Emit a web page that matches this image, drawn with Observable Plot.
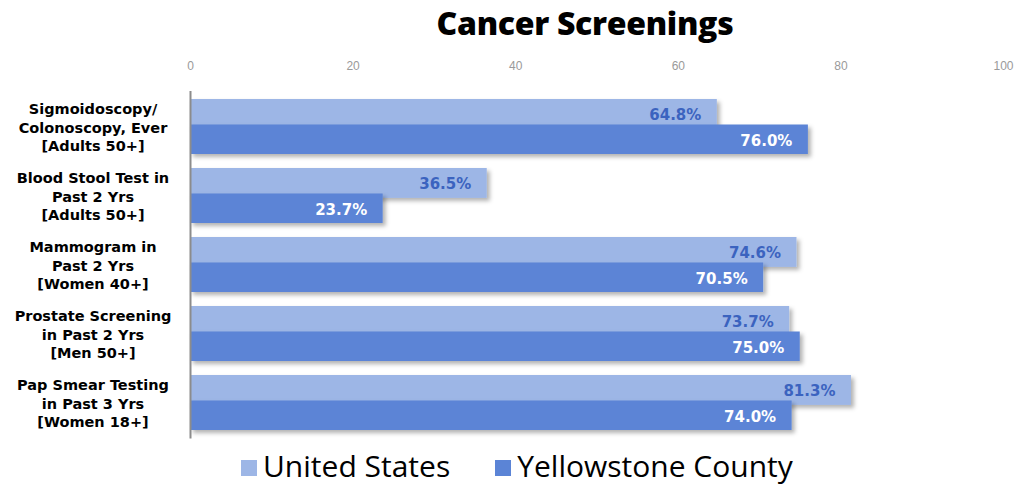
<!DOCTYPE html>
<html>
<head>
<meta charset="utf-8">
<script src="https://cdn.jsdelivr.net/npm/d3@7"></script>
<script src="https://cdn.jsdelivr.net/npm/@observablehq/plot@0.6"></script>
<style>
  html, body { margin: 0; padding: 0; background: #fff; }
  #wrap { position: relative; width: 1028px; height: 485px; overflow: hidden; }
  #title { position: absolute; left: 0; width: 1170px; top: 1px; text-align: center;
    font-family: "Open Sans", sans-serif; font-weight: 800; font-size: 32px; color: #000; letter-spacing: -0.3px; }
  #chart { position: absolute; left: 0; top: 0; }
  #legend { position: absolute; left: 241px; top: 449px; display: flex; align-items: center;
    font-family: "Open Sans", sans-serif; font-size: 30px; line-height: 34px; color: #000; white-space: nowrap; }
  .sw { display: inline-block; width: 16px; height: 16px; margin-right: 6px; margin-top: 3px; }
  .item { display: flex; align-items: center; margin-right: 45px; }
</style>
</head>
<body>
<div id="wrap">
  <div id="chart"></div>
  <div id="title">Cancer Screenings</div>
  <div id="legend"></div>
</div>
<script>
const categories = [
  "Sigmoidoscopy/\nColonoscopy, Ever\n[Adults 50+]",
  "Blood Stool Test in\nPast 2 Yrs\n[Adults 50+]",
  "Mammogram in\nPast 2 Yrs\n[Women 40+]",
  "Prostate Screening\nin Past 2 Yrs\n[Men 50+]",
  "Pap Smear Testing\nin Past 3 Yrs\n[Women 18+]"
];
const unitedStates = [64.8, 36.5, 74.6, 73.7, 81.3];
const yellowstone = [76.0, 23.7, 70.5, 75.0, 74.0];
const seriesNames = ["United States", "Yellowstone County"];
const xTicks = [0, 20, 40, 60, 80, 100];

const colors = { light: "#9db6e6", dark: "#5b84d6", usText: "#3b63bf" };

const usData = categories.map((c, i) => ({ cat: c, value: unitedStates[i] }));
const ycData = categories.map((c, i) => ({ cat: c, value: yellowstone[i] }));

const chart = Plot.plot({
  width: 1028,
  height: 445,
  marginTop: 91,
  marginBottom: 6.5,
  marginLeft: 190,
  marginRight: 25,
  style: { fontFamily: "DejaVu Sans, sans-serif", background: "transparent" },
  x: { domain: [0, 100] },
  y: { domain: categories, paddingInner: 0.2, paddingOuter: 0.1, axis: null },
  marks: [
    Plot.axisX({ anchor: "top", ticks: xTicks, tickSize: 0, tickPadding: 22, fontSize: 12,
      fontFamily: "Liberation Sans, sans-serif", fill: "#9a9a9a", label: null }),
    Plot.barX(usData, { x: "value", y: "cat", fill: colors.light, insetBottom: 25.1 }),
    Plot.barX(ycData, { x: "value", y: "cat", fill: colors.dark, insetTop: 25.5 }),
    Plot.ruleX([0], { stroke: "#8c8c8c", strokeWidth: 2 }),
    Plot.text(usData, { x: "value", y: "cat", text: d => d.value.toFixed(1) + "%", textAnchor: "end",
      dx: -16, dy: -12, fill: colors.usText, fontWeight: "bold", fontSize: 15 }),
    Plot.text(ycData, { x: "value", y: "cat", text: d => d.value.toFixed(1) + "%", textAnchor: "end",
      dx: -16, dy: 14, fill: "#ffffff", fontWeight: "bold", fontSize: 15 }),
    Plot.text(categories, { y: d => d, text: d => d, frameAnchor: "left", dx: -97.5, textAnchor: "middle",
      lineHeight: 1.28, fontWeight: "bold", fontSize: 14.5, fill: "#000" })
  ]
});

// drop shadow for bars
const svgNS = "http://www.w3.org/2000/svg";
const defs = document.createElementNS(svgNS, "defs");
defs.innerHTML = '<filter id="shadow" x="-5%" y="-30%" width="115%" height="180%">' +
  '<feDropShadow dx="3" dy="3" stdDeviation="2" flood-color="#000" flood-opacity="0.3"/></filter>';
chart.insertBefore(defs, chart.firstChild);
chart.querySelectorAll('g[aria-label="bar"]').forEach(g => g.setAttribute("filter", "url(#shadow)"));

document.getElementById("chart").appendChild(chart);

const legend = document.getElementById("legend");
[colors.light, colors.dark].forEach((c, i) => {
  const item = document.createElement("div");
  item.className = "item";
  const sw = document.createElement("span");
  sw.className = "sw";
  sw.style.background = c;
  const t = document.createElement("span");
  t.textContent = seriesNames[i];
  item.appendChild(sw);
  item.appendChild(t);
  legend.appendChild(item);
});
</script>
</body>
</html>
